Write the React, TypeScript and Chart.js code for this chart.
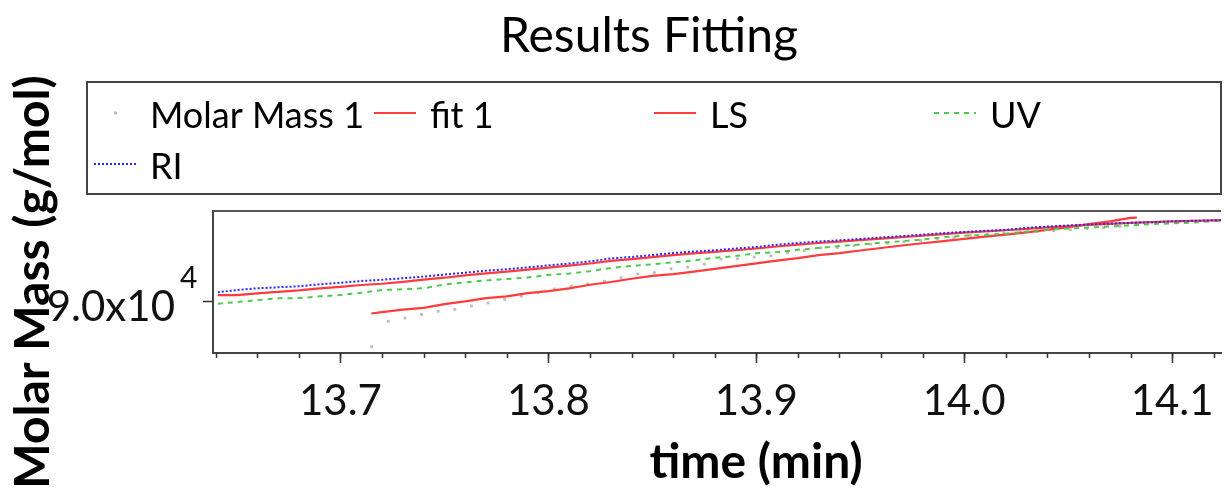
import React, { useEffect, useRef } from 'react';
import { Chart, registerables } from 'chart.js';

Chart.register(...registerables);

// ---------- text ----------
const chartTitle = 'Results Fitting';
const xAxisTitle = 'time (min)';
const yAxisTitle = 'Molar Mass (g/mol)';
const seriesNames = ['Molar Mass 1', 'fit 1', 'LS', 'UV', 'RI'];

// ---------- axes ----------
const xMin = 13.6387;
const xMax = 14.1235;
const yMin = 85840;
const yMax = 97120;
const xMajorTicks = [13.7, 13.8, 13.9, 14.0, 14.1];
const xTickLabels = ['13.7', '13.8', '13.9', '14.0', '14.1'];
const xMinorTicks = [
  13.64, 13.66, 13.68, 13.7, 13.72, 13.74, 13.76, 13.78, 13.8, 13.82, 13.84, 13.86, 13.88,
  13.9, 13.92, 13.94, 13.96, 13.98, 14.0, 14.02, 14.04, 14.06, 14.08, 14.1, 14.12,
];
const yTickValues = [90000];
const yTickMantissas = ['9.0x10'];
const yTickExponents = ['4'];

// ---------- data ----------
const lineTimes = [
  13.641, 13.65, 13.66, 13.67, 13.68, 13.69, 13.7, 13.71, 13.72, 13.73, 13.74, 13.75, 13.76,
  13.77, 13.78, 13.79, 13.8, 13.81, 13.82, 13.83, 13.84, 13.85, 13.86, 13.87, 13.88, 13.89,
  13.9, 13.91, 13.92, 13.93, 13.94, 13.95, 13.96, 13.97, 13.98, 13.99, 14.0, 14.01, 14.02,
  14.03, 14.04, 14.05, 14.06, 14.07, 14.08, 14.09, 14.1, 14.11, 14.12, 14.124,
];
const riValues = [
  90660, 90840, 90980, 91060, 91140, 91300, 91420, 91560, 91660, 91780, 91910, 92070, 92220,
  92380, 92500, 92640, 92800, 92950, 93120, 93350, 93470, 93620, 93780, 93900, 94000, 94140,
  94260, 94440, 94580, 94700, 94790, 94900, 95020, 95120, 95240, 95360, 95460, 95540, 95620,
  95780, 95880, 95970, 96050, 96120, 96180, 96230, 96300, 96340, 96380, 96390,
];
const lsValues = [
  90440, 90440, 90580, 90700, 90820, 90980, 91100, 91240, 91340, 91490, 91670, 91820, 92010,
  92170, 92300, 92460, 92620, 92780, 92950, 93160, 93300, 93460, 93620, 93750, 93870, 94000,
  94140, 94300, 94450, 94580, 94690, 94810, 94930, 95050, 95160, 95290, 95400, 95500, 95590,
  95700, 95820, 95930, 96020, 96100, 96180, 96230, 96300, 96340, 96380, 96390,
];
const uvValues = [
  89760, 89880, 90040, 90180, 90200, 90340, 90440, 90620, 90840, 90900, 90980, 91280, 91460,
  91600, 91720, 91840, 92040, 92160, 92340, 92580, 92760, 92880, 93040, 93200, 93400, 93540,
  93760, 93860, 94040, 94180, 94340, 94460, 94600, 94720, 94860, 95040, 95160, 95220, 95320,
  95500, 95640, 95720, 95800, 95900, 95980, 96080, 96140, 96200, 96320, 96360,
];
const fitTimes = [
  13.7148, 13.72, 13.73, 13.74, 13.75, 13.76, 13.77, 13.78, 13.79, 13.8, 13.81, 13.82, 13.83,
  13.84, 13.85, 13.86, 13.87, 13.88, 13.89, 13.9, 13.91, 13.92, 13.93, 13.94, 13.95, 13.96,
  13.97, 13.98, 13.99, 14.0, 14.01, 14.02, 14.03, 14.04, 14.05, 14.06, 14.07, 14.08, 14.083,
];
const fitValues = [
  88980, 89080, 89280, 89420, 89720, 89940, 90200, 90340, 90600, 90760, 90980, 91260, 91480,
  91740, 91960, 92100, 92300, 92520, 92740, 92960, 93180, 93380, 93620, 93780, 93980, 94180,
  94380, 94560, 94720, 94900, 95080, 95240, 95420, 95620, 95840, 96080, 96300, 96580, 96600,
];
const mmTimes = [
  13.715, 13.723, 13.731, 13.739, 13.747, 13.755, 13.763, 13.771, 13.779, 13.787, 13.795,
  13.803, 13.811, 13.819, 13.827, 13.835, 13.843, 13.851, 13.859, 13.867, 13.875, 13.883,
  13.891, 13.899, 13.907, 13.915, 13.923, 13.931, 13.939, 13.947, 13.955, 13.963, 13.971,
  13.979, 13.987, 13.995, 14.003, 14.011, 14.019, 14.027, 14.035, 14.043, 14.051, 14.059,
  14.067, 14.075,
];
const mmValues = [
  86340, 88360, 88620, 88900, 89160, 89300, 89580, 89820, 90100, 90360, 90620, 90920, 91160,
  91320, 91540, 91820, 92120, 92220, 92520, 92660, 92900, 93300, 93320, 93460, 93560, 93820,
  93980, 94180, 94220, 94360, 94480, 94560, 94680, 94780, 94920, 95020, 95180, 95280, 95380,
  95460, 95480, 95560, 95640, 95720, 95780, 95900,
];

const FONT = 'Lato, "Open Sans", sans-serif';

const pts = (xs: number[], ys: number[]) => xs.map((x, i) => ({ x, y: ys[i] }));

const decorPlugin = {
  id: 'decor',
  afterDraw(chart: any) {
    const ctx = chart.ctx as CanvasRenderingContext2D;
    const ca = chart.chartArea;
    const xs = chart.scales.x;
    const ys = chart.scales.y;
    ctx.save();

    // top frame line of the plot
    ctx.strokeStyle = '#555';
    ctx.lineWidth = 2;
    ctx.beginPath();
    ctx.moveTo(ca.left, ca.top);
    ctx.lineTo(ca.right, ca.top);
    ctx.stroke();

    // x tick marks
    ctx.strokeStyle = '#333';
    ctx.lineWidth = 1.5;
    xMinorTicks.forEach((v) => {
      const p = Math.round(xs.getPixelForValue(v)) + 0.5;
      ctx.beginPath();
      ctx.moveTo(p, ca.bottom);
      ctx.lineTo(p, ca.bottom + 5);
      ctx.stroke();
    });
    xMajorTicks.forEach((v) => {
      const p = Math.round(xs.getPixelForValue(v)) + 0.5;
      ctx.beginPath();
      ctx.moveTo(p, ca.bottom);
      ctx.lineTo(p, ca.bottom + 10);
      ctx.stroke();
    });

    // y tick marks and labels
    yTickValues.forEach((v, i) => {
      const p = Math.round(ys.getPixelForValue(v)) + 0.5;
      ctx.strokeStyle = '#333';
      ctx.beginPath();
      ctx.moveTo(ca.left - 10, p);
      ctx.lineTo(ca.left, p);
      ctx.stroke();
      ctx.fillStyle = '#111';
      ctx.textBaseline = 'alphabetic';
      ctx.textAlign = 'right';
      ctx.font = `42px ${FONT}`;
      ctx.fillText(yTickMantissas[i], ca.left - 38, p + 19.5);
      ctx.textAlign = 'left';
      ctx.font = `30px ${FONT}`;
      ctx.fillText(yTickExponents[i], ca.left - 33, p - 13.5);
    });

    // chart title
    ctx.fillStyle = '#000';
    ctx.textAlign = 'center';
    ctx.textBaseline = 'alphabetic';
    ctx.font = `48px ${FONT}`;
    ctx.fillText(chartTitle, 649, 52);

    // x axis title
    ctx.font = `bold 48px ${FONT}`;
    ctx.fillText(xAxisTitle, 756, 478);

    // legend
    ctx.strokeStyle = '#444';
    ctx.lineWidth = 2;
    ctx.strokeRect(87, 82, 1134, 112);
    const cols = [94, 374, 654, 934];
    chart.data.datasets.forEach((ds: any, i: number) => {
      const row = Math.floor(i / 4);
      const col = i % 4;
      const sx = cols[col];
      const sy = 113 + row * 51;
      ctx.save();
      if (ds.showLine === false) {
        ctx.fillStyle = ds.pointBackgroundColor;
        ctx.fillRect(sx + 20, sy - 1.5, 3, 3);
      } else {
        ctx.strokeStyle = ds.borderColor;
        ctx.lineWidth = ds.borderWidth;
        ctx.setLineDash(ds.borderDash || []);
        ctx.beginPath();
        ctx.moveTo(sx, sy);
        ctx.lineTo(sx + 42, sy);
        ctx.stroke();
      }
      ctx.restore();
      ctx.fillStyle = '#000';
      ctx.textAlign = 'left';
      ctx.font = `36px ${FONT}`;
      ctx.fillText(ds.label, sx + 56, 128 + row * 51);
    });

    ctx.restore();
  },
};

export default function App() {
  const canvasRef = useRef<HTMLCanvasElement | null>(null);

  useEffect(() => {
    if (!canvasRef.current) return;
    const chart = new Chart(canvasRef.current, {
      type: 'line',
      data: {
        datasets: [
          {
            label: seriesNames[0],
            data: pts(mmTimes, mmValues),
            showLine: false,
            pointStyle: 'rect',
            pointRadius: 2,
            pointBorderWidth: 0,
            pointBackgroundColor: '#bdbdbd',
            borderColor: '#bdbdbd',
            order: 5,
          },
          {
            label: seriesNames[1],
            data: pts(fitTimes, fitValues),
            borderColor: '#ff3b3b',
            borderWidth: 2.2,
            pointRadius: 0,
            order: 4,
          },
          {
            label: seriesNames[2],
            data: pts(lineTimes, lsValues),
            borderColor: '#ff3b3b',
            borderWidth: 2.2,
            pointRadius: 0,
            order: 2,
          },
          {
            label: seriesNames[3],
            data: pts(lineTimes, uvValues),
            borderColor: '#4ccc4c',
            borderWidth: 2,
            borderDash: [5, 5],
            pointRadius: 0,
            order: 3,
          },
          {
            label: seriesNames[4],
            data: pts(lineTimes, riValues),
            borderColor: '#2a2aff',
            borderWidth: 2,
            borderDash: [2, 2],
            pointRadius: 0,
            order: 1,
          },
        ],
      },
      options: {
        animation: false,
        responsive: false,
        events: [],
        layout: { padding: { top: 211, left: 0, right: 0, bottom: 0 } },
        plugins: {
          legend: { display: false },
          title: { display: false },
          tooltip: { enabled: false },
        },
        elements: { line: { tension: 0 } },
        scales: {
          x: {
            type: 'linear',
            position: 'bottom',
            min: xMin,
            max: xMax,
            afterBuildTicks: (scale: any) => {
              scale.ticks = xMajorTicks.map((v) => ({ value: v }));
            },
            afterFit: (scale: any) => {
              scale.height = 139;
              scale.paddingLeft = 0;
              scale.paddingRight = 0;
            },
            ticks: {
              autoSkip: false,
              maxRotation: 0,
              minRotation: 0,
              padding: 23,
              color: '#111',
              font: { family: FONT, size: 42 },
              callback: (v: any) => {
                const i = xMajorTicks.findIndex((t) => Math.abs(t - Number(v)) < 1e-6);
                return i >= 0 ? xTickLabels[i] : '';
              },
            },
            grid: { display: false, drawTicks: false },
            border: { display: true, color: '#444', width: 2 },
          },
          y: {
            type: 'linear',
            position: 'left',
            min: yMin,
            max: yMax,
            afterFit: (scale: any) => {
              scale.width = 213;
              scale.paddingTop = 0;
              scale.paddingBottom = 0;
            },
            ticks: { display: false },
            grid: { display: false, drawTicks: false },
            border: { display: true, color: '#444', width: 2 },
            title: {
              display: true,
              text: yAxisTitle,
              color: '#000',
              font: { family: FONT, size: 48, weight: 'bold' },
              padding: { top: 5, bottom: 0 },
            },
          },
        },
      },
      plugins: [decorPlugin],
    } as any);
    return () => chart.destroy();
  }, []);

  return (
    <div style={{ position: 'fixed', left: 0, top: 0, width: 1225, height: 492, background: '#fff' }}>
      <canvas ref={canvasRef} width={1225} height={492} style={{ display: 'block' }} />
    </div>
  );
}
